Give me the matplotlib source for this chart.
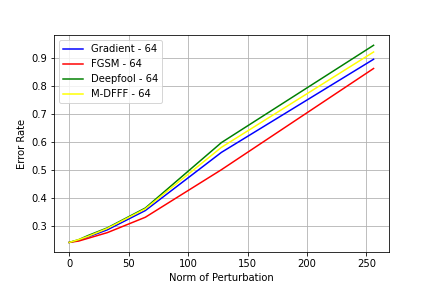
import matplotlib
matplotlib.use("Agg")
import matplotlib.pyplot as plt

norms = [0, 8, 16, 32, 64, 128, 256]
gradient = [0.24, 0.248, 0.260, 0.285, 0.354, 0.562, 0.895]
fgsm = [0.24, 0.245, 0.255, 0.275, 0.330, 0.500, 0.862]
deepfool = [0.24, 0.250, 0.265, 0.292, 0.363, 0.597, 0.945]
mdfff = [0.24, 0.250, 0.262, 0.290, 0.360, 0.580, 0.921]

fig, ax = plt.subplots(figsize=(6, 4), dpi=72)
fig.subplots_adjust(left=0.125, right=0.9, top=0.877, bottom=0.124)
ax.plot(norms, gradient, color="blue", label="Gradient - 64")
ax.plot(norms, fgsm, color="red", label="FGSM - 64")
ax.plot(norms, deepfool, color="green", label="Deepfool - 64")
ax.plot(norms, mdfff, color="yellow", label="M-DFFF - 64")
ax.set_xlabel("Norm of Perturbation")
ax.set_ylabel("Error Rate")
ax.grid(True)
ax.legend(loc="upper left")
fig.savefig("out.png", dpi=72)
